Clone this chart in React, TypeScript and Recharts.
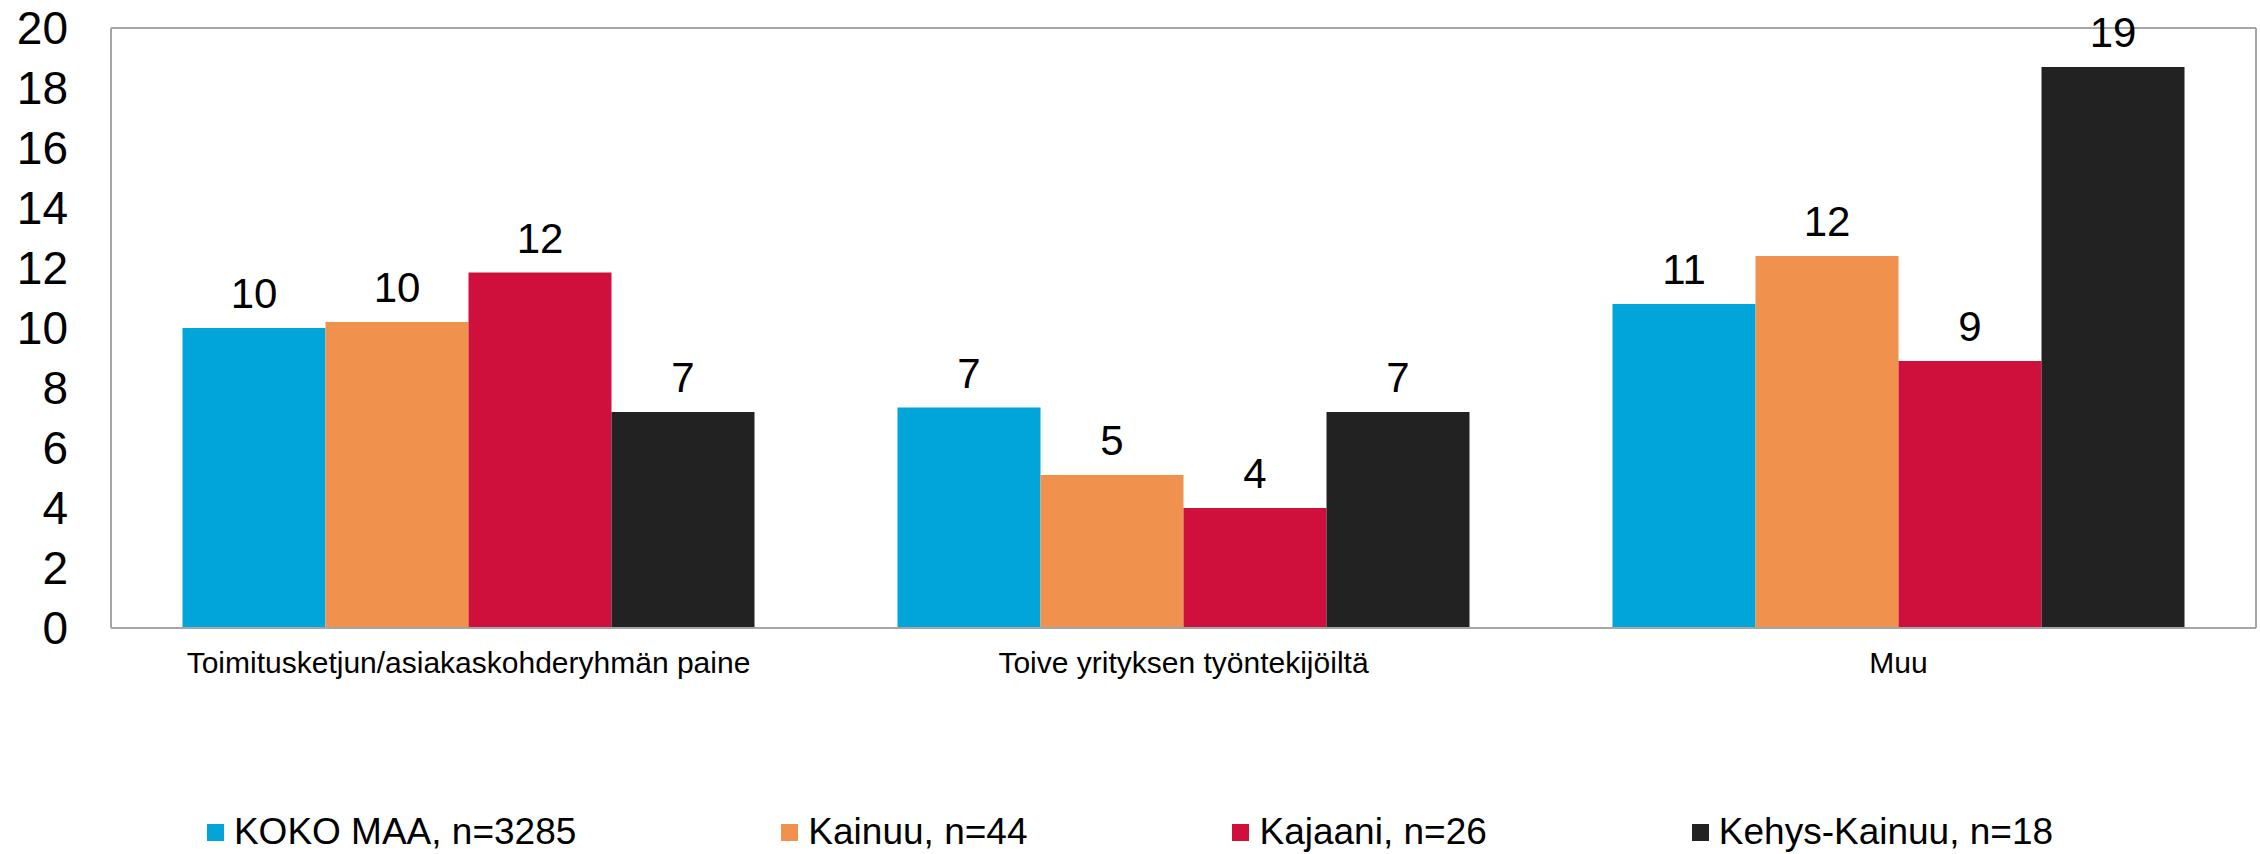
import { BarChart, Bar, XAxis, YAxis, CartesianGrid, Legend, LabelList } from 'recharts'

const categories = [
  'Toimitusketjun/asiakaskohderyhmän paine',
  'Toive yrityksen työntekijöiltä',
  'Muu',
]
const kokoMaa = [10.0, 7.35, 10.8]
const kainuu = [10.2, 5.1, 12.4]
const kajaani = [11.85, 4.0, 8.9]
const kehysKainuu = [7.2, 7.2, 18.7]
const yTicks = [0, 2, 4, 6, 8, 10, 12, 14, 16, 18, 20]

const seriesList = [
  { key: 'kokoMaa', name: 'KOKO MAA, n=3285', color: '#02A5DA' },
  { key: 'kainuu', name: 'Kainuu, n=44', color: '#F0914D' },
  { key: 'kajaani', name: 'Kajaani, n=26', color: '#CF103D' },
  { key: 'kehysKainuu', name: 'Kehys-Kainuu, n=18', color: '#222222' },
]

const data = categories.map((name, i) => ({
  name,
  kokoMaa: kokoMaa[i],
  kainuu: kainuu[i],
  kajaani: kajaani[i],
  kehysKainuu: kehysKainuu[i],
}))

const FONT = '"Liberation Sans", Arial, sans-serif'
const GRID = '#A6A6A6'

function LegendRow() {
  return (
    <div
      style={{
        display: 'flex',
        justifyContent: 'center',
        alignItems: 'center',
        gap: 205,
        height: 44,
        fontFamily: FONT,
        fontSize: 37,
        color: '#000',
      }}
    >
      {seriesList.map((s) => (
        <div key={s.key} style={{ display: 'flex', alignItems: 'center', gap: 10 }}>
          <span style={{ width: 17, height: 17, background: s.color, display: 'inline-block' }} />
          <span>{s.name}</span>
        </div>
      ))}
    </div>
  )
}

export default function App() {
  return (
    <>
      <style>{'body{margin:0}'}</style>
      <BarChart
        width={2260}
        height={854}
        data={data}
        margin={{ top: 28, right: 0, bottom: 0, left: 0 }}
        barCategoryGap="10%"
        barGap={0}
        style={{ fontFamily: FONT }}
      >
        <CartesianGrid vertical={false} stroke={GRID} strokeWidth={2} />
        <XAxis
          dataKey="name"
          height={182}
          tickLine={false}
          tickSize={0}
          tickMargin={24}
          axisLine={{ stroke: GRID, strokeWidth: 2 }}
          tick={{ fontSize: 30, fill: '#000', fontFamily: FONT }}
          interval={0}
        />
        <YAxis
          yAxisId="l"
          width={111}
          domain={[0, 20]}
          ticks={yTicks}
          interval={0}
          tickLine={false}
          tickSize={0}
          tickMargin={43}
          axisLine={{ stroke: GRID, strokeWidth: 2 }}
          tick={{ fontSize: 46, fill: '#000', fontFamily: FONT }}
        />
        <YAxis
          yAxisId="r"
          orientation="right"
          width={4}
          domain={[0, 20]}
          tick={false}
          tickLine={false}
          axisLine={{ stroke: GRID, strokeWidth: 2 }}
        />
        <Legend verticalAlign="bottom" height={44} content={<LegendRow />} />
        {seriesList.map((s) => (
          <Bar
            key={s.key}
            yAxisId="l"
            dataKey={s.key}
            name={s.name}
            fill={s.color}
            isAnimationActive={false}
          >
            <LabelList
              dataKey={s.key}
              position="top"
              offset={20}
              formatter={(v: number) => Math.round(v)}
              style={{ fontSize: 42, fill: '#000', fontFamily: FONT }}
            />
          </Bar>
        ))}
      </BarChart>
    </>
  )
}
